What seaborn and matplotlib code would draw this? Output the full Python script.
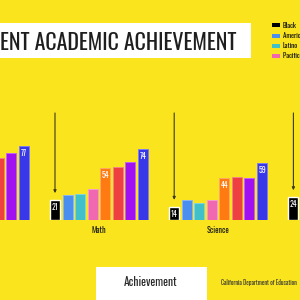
import numpy as np
import pandas as pd
import matplotlib.pyplot as plt
import seaborn as sns
from matplotlib import font_manager as fm
from matplotlib.patches import Rectangle
from matplotlib.colors import to_rgba

# ---- data ----
subjects = ["English", "Math", "Science", "History"]
groups = ["Black", "American Indian", "Latino", "Pacific Islander",
          "Filipino", "White", "Two or More", "Asian"]
colors = ["#000000", "#4a8ff0", "#40c0c8", "#f068b0",
          "#ff7a10", "#ee4040", "#a010f0", "#3838e8"]
english = [None, None, None, None, None, 65, 70, 77]
math = [21, 26, 27, 32, 54, 55, 60, 74]
science = [14, 21, 18, 21, 44, 45, 44, 59]
history = [24, None, None, None, None, None, None, None]
labelled = ["Black", "Filipino", "Asian"]

rows = []
for subj, vals in zip(subjects, [english, math, science, history]):
    for g, v in zip(groups, vals):
        if v is not None:
            rows.append({"subject": subj, "group": g, "score": v})
df = pd.DataFrame(rows)

# ---- fonts ----
sns.set_style("white")
names = {f.name for f in fm.fontManager.ttflist}
cond = next((n for n in ["Oswald", "Roboto Condensed", "Liberation Sans Narrow",
                         "Open Sans Condensed", "Noto Sans"] if n in names), "DejaVu Sans")
plt.rcParams["font.family"] = [cond, "DejaVu Sans"]

YELLOW = "#f9e41e"
fig = plt.figure(figsize=(3, 3), dpi=100, facecolor=YELLOW)

# bar axes: baseline 80px above bottom, 0.96 px per point
ax = fig.add_axes([0, 80 / 300, 1, 220 / 300])
sns.barplot(data=df, x="subject", y="score", hue="group", order=subjects,
            hue_order=groups, palette=colors, saturation=1, width=0.842, gap=0.2,
            errorbar=None, legend=False, ax=ax)
ax.set_xlim(0.1703, 2.687)
ax.set_ylim(0, 220 / 0.96)
ax.set_facecolor("none")
ax.set_xlabel("")
ax.set_ylabel("")
ax.set_yticks([])
sns.despine(ax=ax, left=True, bottom=True)
ax.tick_params(axis="x", length=0, pad=4.5, labelsize=5.8, labelcolor="#1a1a1a")
for t in ax.get_xticklabels():
    t.set_fontweight("bold")

# light outline on coloured bars
for p in ax.patches:
    fc = np.array(p.get_facecolor())
    if fc[:3].sum() > 0.2:
        ec = fc.copy()
        ec[:3] = fc[:3] + (1 - fc[:3]) * 0.35
        p.set_edgecolor(ec)
        p.set_linewidth(0.7)

# value labels and arrows
lab_cols = [to_rgba(colors[groups.index(g)]) for g in labelled]
for cont in ax.containers:
    fc = tuple(cont.patches[0].get_facecolor())
    if any(np.allclose(fc, c) for c in lab_cols):
        ax.bar_label(cont, fmt="{:.0f}", padding=-8, color="white",
                     fontsize=5.6, fontweight="bold")
    if np.allclose(fc, to_rgba(colors[0])):
        for bar in cont.patches:
            x = bar.get_x() + bar.get_width() / 2
            top = bar.get_height()
            ax.annotate("", xy=(x, top + 7), xytext=(x, 111.5),
                        arrowprops=dict(arrowstyle="-|>", color="#3a3a20", lw=0.8,
                                        mutation_scale=4, shrinkA=0, shrinkB=0))

# title box
fig.add_artist(Rectangle((0, 1 - 58.3 / 300), 250.7 / 300, 35.6 / 300,
                         transform=fig.transFigure, facecolor="white", edgecolor="none"))
fig.text(236.7 / 300, 1 - 50 / 300, "ENT ACADEMIC ACHIEVEMENT", ha="right", va="baseline",
         fontsize=15.8, fontweight="medium", color="#1e1e1e")

# legend column
for i, (g, c) in enumerate(zip(groups[:4], colors[:4])):
    yc = 1 - (25.3 + i * 10.2) / 300
    fig.add_artist(Rectangle((272 / 300, yc - 2 / 300), 7.5 / 300, 4 / 300,
                             transform=fig.transFigure, facecolor=c, edgecolor="none"))
    fig.text(283 / 300, yc, g, ha="left", va="center", fontsize=5,
             fontweight="bold", color="#111111")

# bottom box and source
fig.add_artist(Rectangle((96 / 300, 0), 110.7 / 300, 33.3 / 300,
                         transform=fig.transFigure, facecolor="white", edgecolor="none"))
fig.text(151 / 300, 1 - 282.5 / 300, "Achievement", ha="center", va="center",
         fontsize=8.3, fontweight="medium", color="#2a2a2a")
fig.text(221 / 300, 1 - 282.3 / 300, "California Department of Education", ha="left",
         va="center", fontsize=4.3, color="#333333")

fig.savefig("out.png", dpi=100, facecolor=fig.get_facecolor())
